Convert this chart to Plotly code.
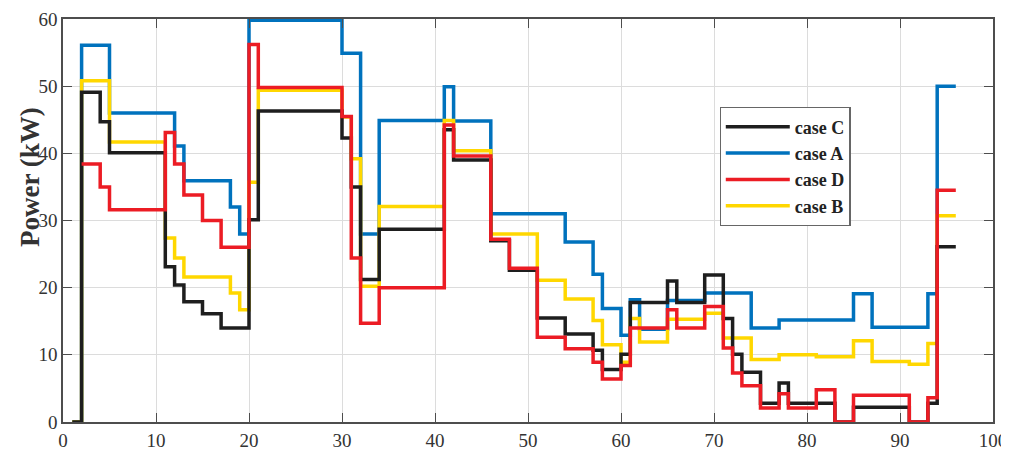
import plotly.graph_objects as go

# time-slot breakpoints (start of each constant interval) and values (kW)
x_end = 96

c_x = [1, 2, 4, 5, 11, 12, 13, 15, 17, 20, 21, 30, 31, 32, 34, 41, 42, 46, 48, 51, 54, 57, 58, 60, 61, 65, 66, 69, 71, 72, 73, 75, 77, 78, 83, 85, 91, 93, 94]
c_y = [0, 49.1, 44.7, 40.1, 23.1, 20.4, 17.9, 16.1, 14.0, 30.1, 46.3, 42.3, 35.0, 21.2, 28.7, 43.5, 39.0, 27.0, 22.6, 15.5, 13.1, 10.7, 7.8, 10.1, 17.8, 21.0, 17.8, 21.9, 15.4, 10.1, 7.4, 2.8, 5.8, 2.8, 0, 2.2, 0, 2.8, 26.1]

a_x = [1, 2, 5, 12, 13, 18, 19, 20, 30, 32, 34, 41, 42, 46, 54, 57, 58, 60, 61, 62, 65, 69, 74, 77, 85, 87, 93, 94]
a_y = [0, 56.1, 46.0, 41.1, 35.9, 32.0, 28.0, 59.8, 54.9, 28.0, 44.9, 49.9, 44.8, 31.0, 26.8, 22.0, 16.9, 12.9, 18.2, 13.8, 18.1, 19.2, 14.0, 15.2, 19.1, 14.1, 19.1, 50.0]

d_x = [2, 4, 5, 11, 12, 13, 15, 17, 20, 21, 30, 31, 32, 34, 41, 42, 46, 48, 51, 54, 57, 58, 60, 61, 65, 66, 69, 71, 72, 73, 75, 77, 78, 81, 83, 85, 91, 93, 94]
d_y = [38.4, 35.0, 31.6, 43.1, 38.4, 33.8, 30.0, 26.0, 56.2, 49.8, 45.5, 24.4, 14.7, 20.0, 44.2, 39.6, 27.2, 22.9, 12.6, 10.9, 8.9, 6.4, 8.4, 14.0, 16.7, 14.0, 17.2, 11.0, 7.3, 5.4, 2.1, 4.2, 2.1, 4.8, 0, 4.0, 0, 3.6, 34.5]

b_x = [1, 2, 5, 11, 12, 13, 18, 19, 20, 21, 30, 31, 32, 34, 41, 42, 46, 51, 54, 57, 58, 60, 61, 62, 65, 69, 71, 74, 77, 81, 85, 87, 91, 93, 94]
b_y = [0, 50.8, 41.7, 27.4, 24.4, 21.6, 19.2, 16.7, 35.7, 49.4, 45.4, 39.2, 20.2, 32.1, 44.9, 40.4, 28.0, 21.1, 18.3, 15.1, 11.5, 8.9, 15.4, 11.9, 15.3, 16.2, 12.5, 9.3, 10.0, 9.7, 12.1, 9.0, 8.6, 11.7, 30.7]

x_ticks = [0, 10, 20, 30, 40, 50, 60, 70, 80, 90, 100]
y_ticks = [0, 10, 20, 30, 40, 50, 60]

series = [
    # (name, x, y, color, legend rank)  -- drawing order bottom -> top
    ("case A", a_x, a_y, "#0072BD", 2),
    ("case B", b_x, b_y, "#FFD700", 4),
    ("case C", c_x, c_y, "#1E1E1E", 1),
    ("case D", d_x, d_y, "#EC1C24", 3),
]

fig = go.Figure()
for name, xs, ys, color, rank in series:
    fig.add_trace(go.Scatter(
        x=list(xs) + [x_end], y=list(ys) + [ys[-1]],
        mode="lines", line=dict(shape="hv", color=color, width=3.5),
        name=name, legendrank=rank,
    ))

axis_common = dict(
    showgrid=True, gridcolor="#DCDCDC", gridwidth=1,
    showline=True, linecolor="#4D4D4D", linewidth=1.5, mirror="ticks",
    ticks="inside", ticklen=9, tickcolor="#4D4D4D", tickwidth=1.2,
    zeroline=False, automargin=False,
    tickfont=dict(family="Liberation Serif", size=19, color="#333333"),
)

fig.update_layout(
    width=1001, height=450,
    margin=dict(l=55, r=16, t=11, b=36),
    paper_bgcolor="white", plot_bgcolor="white",
    xaxis=dict(range=[0, 100], tickvals=x_ticks, **axis_common),
    yaxis=dict(range=[0, 60], tickvals=y_ticks, **axis_common),
    legend=dict(
        x=0.706, y=0.781, xanchor="left", yanchor="top",
        bgcolor="white", bordercolor="#666666", borderwidth=1.2,
        font=dict(family="Liberation Serif", size=18, color="#222222", weight="bold"),
        itemwidth=64,
    ),
    annotations=[dict(
        text="<b>Power (kW)</b>", textangle=-90,
        xref="paper", yref="paper", x=-0.0355, y=0.608,
        xanchor="center", yanchor="middle", showarrow=False,
        font=dict(family="Liberation Serif", size=27, color="#333333"),
    )],
)

fig.write_html("out.html")
